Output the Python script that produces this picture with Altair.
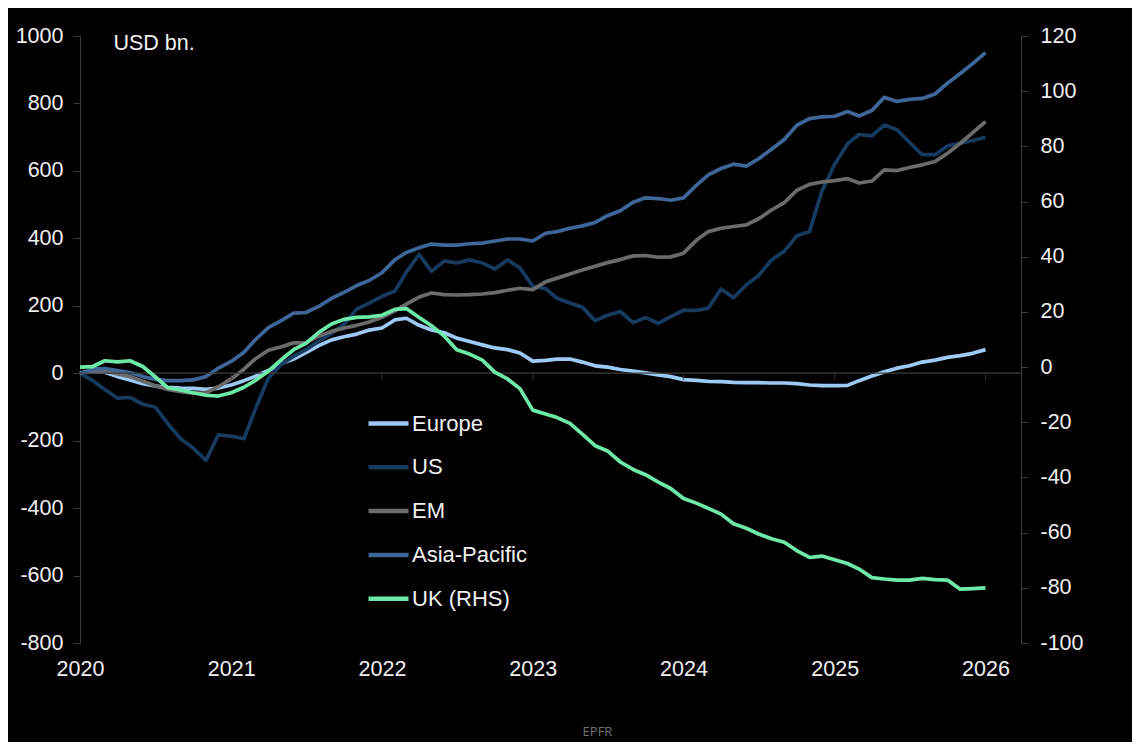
import altair as alt
import pandas as pd

# ---- data ----
months = pd.date_range("2020-01-01", "2026-01-01", freq="MS").strftime("%Y-%m-%d").tolist()
series_names = ["Europe", "US", "EM", "Asia-Pacific", "UK (RHS)"]
series_colors = ["#9ccaf5", "#173b5e", "#6b6b6b", "#3e6698", "#6eeaa8"]

europe = [0, 5, 3, -10, -20, -31, -38, -42, -44, -45,
          -48, -44, -35, -22, -9, 8, 28, 42, 61, 82,
          99, 108, 116, 128, 134, 158, 163, 142, 128, 120,
          104, 94, 84, 75, 70, 60, 36, 38, 42, 42,
          33, 22, 18, 11, 6, 1, -5, -10, -19, -21,
          -24, -25, -27, -28, -28, -29, -29, -31, -35, -37,
          -37, -36, -22, -8, 4, 15, 22, 33, 39, 47,
          52, 59, 70]
us = [0, -22, -48, -74, -72, -92, -100, -150, -195, -222,
      -258, -183, -187, -194, -105, -15, 25, 50, 70, 95,
      118, 145, 190, 208, 228, 243, 300, 352, 302, 333,
      327, 336, 327, 309, 336, 312, 258, 251, 222, 208,
      196, 156, 172, 183, 150, 165, 148, 168, 187, 186,
      193, 250, 224, 262, 290, 336, 362, 407, 420, 540,
      620, 680, 708, 704, 736, 722, 685, 648, 648, 674,
      682, 690, 700]
em = [0, 8, 7, -2, -10, -24, -37, -48, -55, -59,
      -58, -40, -17, 12, 43, 68, 78, 90, 91, 110,
      124, 134, 142, 152, 166, 185, 205, 226, 238, 233,
      232, 233, 235, 239, 246, 252, 248, 271, 282, 294,
      306, 317, 328, 337, 348, 349, 344, 345, 356, 394,
      420, 430, 435, 440, 458, 484, 506, 542, 560, 567,
      571, 577, 564, 570, 603, 601, 610, 618, 628, 652,
      682, 713, 746]
asia_pacific = [0, 12, 14, 8, 2, -10, -18, -22, -22, -20,
                -10, 15, 35, 62, 100, 135, 155, 178, 180, 198,
                222, 240, 260, 275, 298, 336, 358, 372, 383, 380,
                380, 384, 386, 392, 398, 398, 392, 415, 420, 430,
                437, 447, 467, 482, 507, 520, 518, 513, 520, 557,
                588, 607, 620, 614, 636, 664, 693, 735, 755, 760,
                762, 776, 763, 779, 818, 806, 812, 815, 828, 860,
                889, 918, 951]
uk = [0, 0.2, 2.3, 1.9, 2.3, 0.2, -3.5, -7.5, -8.3, -9.3,
      -10.2, -10.5, -9.3, -7.3, -4.8, -1.5, 2.5, 6.3, 8.6, 12.6,
      15.6, 17.3, 18.0, 18.2, 18.8, 20.9, 21.2, 18.0, 15.0, 11.2,
      6.3, 4.7, 2.5, -1.8, -4.3, -7.8, -15.6, -17.0, -18.3, -20.4,
      -24.3, -28.5, -30.4, -34.4, -37.1, -39.0, -41.7, -44.0, -47.6, -49.3,
      -51.2, -53.3, -56.8, -58.4, -60.5, -62.2, -63.5, -66.5, -69.0, -68.5,
      -69.8, -71.2, -73.2, -76.3, -76.8, -77.2, -77.2, -76.6, -77.0, -77.2,
      -80.5, -80.3, -80.0]

tick_years = [2020, 2021, 2022, 2023, 2024, 2025, 2026]
left_ticks = [-800, -600, -400, -200, 0, 200, 400, 600, 800, 1000]
right_ticks = [-100, -80, -60, -40, -20, 0, 20, 40, 60, 80, 100, 120]

# ---- tables ----
left_rows = []
for name, vals in zip(series_names[:4], [europe, us, em, asia_pacific]):
    for d, v in zip(months, vals):
        left_rows.append({"date": d, "value": v, "series": name})
left_df = pd.DataFrame(left_rows)
uk_df = pd.DataFrame({"date": months, "value": uk, "series": series_names[4]})
zero_df = pd.DataFrame({"value": [0]})
tick_df = pd.DataFrame({"date": [f"{y}-01-01" for y in tick_years[1:]], "value": [0] * (len(tick_years) - 1)})

# ---- style ----
FONT = "Liberation Sans"
TXT = "#f0f0f0"
AX = "#3c3c3c"
FS = 21.5
HYPHEN_LABEL = "datum.value < 0 ? '-' + format(-datum.value, 'd') : format(datum.value, 'd')"

legend = alt.Legend(
    title=None, orient="none", legendX=286, legendY=365, direction="vertical",
    symbolType="stroke", symbolSize=1600, symbolStrokeWidth=4.5,
    labelFontSize=22, labelColor=TXT, labelFont=FONT, labelOffset=1,
    rowPadding=9.8, padding=0,
)
color = alt.Color("series:N", scale=alt.Scale(domain=series_names, range=series_colors), legend=legend)

x_scale = alt.Scale(domain=[alt.DateTime(year=2020, month=1, date=1), alt.DateTime(year=2026, month=3, date=28)])
x_axis = alt.Axis(
    values=[alt.DateTime(year=y, month=1, date=1) for y in tick_years], format="%Y",
    domain=False, ticks=False, grid=False, labelPadding=15, labelFlush=False,
    labelFontSize=FS, labelColor=TXT, labelFont=FONT, title=None,
)
left_axis = alt.Axis(
    orient="left", values=left_ticks, labelExpr=HYPHEN_LABEL, grid=False,
    domainColor=AX, tickColor=AX, tickSize=7, labelPadding=10, labelFlush=False,
    labelFontSize=FS, labelColor=TXT, labelFont=FONT,
    title="USD bn.", titleAngle=0, titleAlign="left", titleBaseline="middle",
    titleX=33, titleY=7, titleFontSize=FS, titleFontWeight="normal", titleColor=TXT, titleFont=FONT,
)
right_axis = alt.Axis(
    orient="right", values=right_ticks, labelExpr=HYPHEN_LABEL, grid=False,
    domainColor=AX, tickColor=AX, tickSize=7, labelPadding=12, labelFlush=False,
    labelFontSize=FS, labelColor=TXT, labelFont=FONT, title=None,
)

zero_line = alt.Chart(zero_df).mark_rule(color=AX, strokeWidth=1.2).encode(y=alt.Y("value:Q"))
zero_ticks = alt.Chart(tick_df).mark_tick(orient="vertical", size=7, thickness=1.2, yOffset=3.5, color=AX).encode(
    x=alt.X("date:T"), y=alt.Y("value:Q"))

left_lines = alt.Chart(left_df).mark_line(strokeWidth=3.7, strokeJoin="round").encode(
    x=alt.X("date:T", scale=x_scale, axis=x_axis),
    y=alt.Y("value:Q", scale=alt.Scale(domain=[-800, 1000], nice=False, zero=False), axis=left_axis),
    color=color,
)
left = alt.layer(left_lines, zero_line, zero_ticks)

uk_line = alt.Chart(uk_df).mark_line(strokeWidth=3.7, strokeJoin="round").encode(
    x=alt.X("date:T"),
    y=alt.Y("value:Q", scale=alt.Scale(domain=[-100, 120], nice=False, zero=False), axis=right_axis),
    color=color,
)

chart = alt.layer(left, uk_line).resolve_scale(y="independent").properties(
    width=941, height=607,
    background="black",
    autosize=alt.AutoSizeParams(type="none"),
    padding={"left": 72, "top": 28, "right": 111, "bottom": 99},
    title=alt.TitleParams("EPFR", orient="bottom", anchor="middle", fontSize=13, color="#707070",
                          font="Open Sans", fontWeight="normal", offset=46, dx=47),
).configure_view(stroke=None)

chart.save("out.html", embed_options={"renderer": "svg", "actions": False})
